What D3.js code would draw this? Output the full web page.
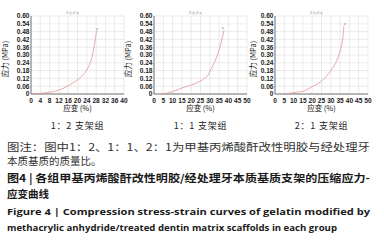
<!DOCTYPE html>
<html>
<head>
<meta charset="utf-8">
<script src="https://cdn.jsdelivr.net/npm/d3@7"></script>
<style>
  body { margin: 0; background: #fff; }
  svg { display: block; }
</style>
</head>
<body>
<div id="chart"></div>
<script>
// Stress-strain curves (strain %, stress MPa)
const strain12 = [0, 2, 4, 6, 8, 10, 12, 14, 16, 18, 20, 22, 24, 25, 26, 27, 28, 28.3];
const stress12 = [0, 0.002, 0.005, 0.009, 0.013, 0.02, 0.03, 0.045, 0.063, 0.085, 0.11, 0.14, 0.185, 0.22, 0.27, 0.35, 0.46, 0.49];
const strain11 = [4.5, 7, 10, 13, 15, 18, 20, 23, 25, 27, 29, 31, 33, 35, 36, 37, 37.6];
const stress11 = [0, 0.006, 0.018, 0.035, 0.046, 0.06, 0.068, 0.085, 0.1, 0.118, 0.145, 0.2, 0.26, 0.34, 0.39, 0.45, 0.49];
const strain21 = [5, 8, 10, 13, 15, 18, 20, 23, 25, 27, 29, 31, 33, 35, 36, 36.6, 37];
const stress21 = [0, 0.006, 0.01, 0.016, 0.02, 0.04, 0.056, 0.08, 0.1, 0.125, 0.16, 0.2, 0.25, 0.33, 0.39, 0.45, 0.52];

// end markers ("x") near the top of each curve
const markers = [[28.5, 0.505], [37, 0.51], [37.5, 0.545]];

const groupLabels = ["1：2 支架组", "1：1 支架组", "2：1 支架组"];
const yTicks = [0, 0.06, 0.12, 0.18, 0.24, 0.3, 0.36, 0.42, 0.48, 0.54, 0.6];
const xTicks40 = [0, 4, 8, 12, 16, 20, 24, 28, 32, 36, 40];
const xTicks50 = [0, 5, 10, 15, 20, 25, 30, 35, 40, 45, 50];

const captionLines = [
  "图注：图中1：2、1：1、2：1为甲基丙烯酸酐改性明胶与经处理牙",
  "本质基质的质量比。",
  "图4 | 各组甲基丙烯酸酐改性明胶/经处理牙本质基质支架的压缩应力-",
  "应变曲线",
  "Figure 4  |  Compression stress-strain curves of gelatin modified by",
  "methacrylic anhydride/treated dentin matrix scaffolds in each group",
];

const W = 384, H = 242;
const svg = d3.select("#chart").append("svg").attr("width", W).attr("height", H);

const panels = [
  { left: 31, right: 124, xs: strain12, ys: stress12, xMax: 40, xTicks: xTicks40, yTitleX: 8 },
  { left: 154, right: 247, xs: strain11, ys: stress11, xMax: 50, xTicks: xTicks50, yTitleX: 131 },
  { left: 275, right: 368, xs: strain21, ys: stress21, xMax: 50, xTicks: xTicks50, yTitleX: 256 },
];
const plotTop = 16, plotBottom = 94;
const tickFont = "'Liberation Sans', Arial, sans-serif";
const cjk = "'Noto Sans CJK SC', sans-serif";

panels.forEach((p, i) => {
  const x = d3.scaleLinear().domain([0, p.xMax]).range([p.left, p.right]);
  const y = d3.scaleLinear().domain([0, 0.6]).range([plotBottom, plotTop]);
  const g = svg.append("g");

  // grid
  g.selectAll("line.vg").data(p.xTicks).join("line")
    .attr("class", "vg")
    .attr("x1", (d) => x(d)).attr("x2", (d) => x(d))
    .attr("y1", plotTop).attr("y2", plotBottom)
    .attr("stroke", "#dcdcdc").attr("stroke-width", 0.6);
  g.selectAll("line.hg").data(yTicks).join("line")
    .attr("class", "hg")
    .attr("x1", p.left).attr("x2", p.right)
    .attr("y1", (d) => y(d)).attr("y2", (d) => y(d))
    .attr("stroke", "#dcdcdc").attr("stroke-width", 0.6);

  // axes lines
  g.append("line").attr("x1", p.left).attr("x2", p.left).attr("y1", plotTop).attr("y2", plotBottom)
    .attr("stroke", "#555").attr("stroke-width", 0.8);
  g.append("line").attr("x1", p.left).attr("x2", p.right).attr("y1", plotBottom).attr("y2", plotBottom)
    .attr("stroke", "#555").attr("stroke-width", 0.8);

  // tick labels
  g.selectAll("text.yt").data(yTicks).join("text")
    .attr("class", "yt")
    .attr("x", p.left - 1.5).attr("y", (d) => y(d) + 2.4)
    .attr("text-anchor", "end")
    .attr("font-family", tickFont).attr("font-weight", "bold")
    .attr("font-size", 6.6).attr("fill", "#222")
    .text((d) => (d === 0 ? "0" : d3.format(".2f")(d)));
  g.selectAll("text.xt").data(p.xTicks).join("text")
    .attr("class", "xt")
    .attr("x", (d) => x(d)).attr("y", plotBottom + 8.5)
    .attr("text-anchor", "middle")
    .attr("font-family", tickFont).attr("font-weight", "bold")
    .attr("font-size", 6.6).attr("fill", "#222")
    .text((d) => d);

  // tiny chart title
  g.append("text").attr("x", (p.left + p.right) / 2 - 5).attr("y", plotTop - 2)
    .attr("text-anchor", "middle").attr("font-family", tickFont)
    .attr("font-size", 3).attr("fill", "#777").text("应力-应变");

  // axis titles
  g.append("text")
    .attr("transform", `translate(${p.yTitleX},${(plotTop + plotBottom) / 2 + 4}) rotate(-90)`)
    .attr("text-anchor", "middle").attr("font-family", cjk)
    .attr("font-size", 7.5).attr("fill", "#111").text("应力 (MPa)");
  g.append("text").attr("x", (p.left + p.right) / 2).attr("y", plotBottom + 17)
    .attr("text-anchor", "middle").attr("font-family", cjk)
    .attr("font-size", 7.5).attr("fill", "#111").text("应变 (%)");

  // group label
  g.append("text").attr("x", (p.left + p.right) / 2).attr("y", 129)
    .attr("text-anchor", "middle").attr("font-family", cjk)
    .attr("font-size", 9).attr("fill", "#222")
    .attr("letter-spacing", 0.8).text(groupLabels[i]);

  // curve
  const pts = p.xs.map((v, k) => [v, p.ys[k]]);
  const line = d3.line().x((d) => x(d[0])).y((d) => y(d[1])).curve(d3.curveMonotoneX);
  g.append("path").attr("d", line(pts))
    .attr("fill", "none").attr("stroke", "#e39494").attr("stroke-width", 0.8);

  // end marker
  const m = markers[i];
  g.append("text").attr("x", x(m[0])).attr("y", y(m[1]) + 1.5)
    .attr("text-anchor", "middle").attr("font-family", tickFont)
    .attr("font-size", 4).attr("fill", "#777").text("x");
});

// caption
const capY = [151, 165, 182, 198, 215, 231];
captionLines.forEach((t, i) => {
  const en = i >= 4;
  const txt = svg.append("text")
    .attr("x", 7).attr("y", capY[i])
    .attr("font-family", en ? "'Open Sans', 'Liberation Sans', sans-serif" : cjk)
    .attr("font-weight", i >= 2 ? "bold" : "normal")
    .attr("font-size", en ? 9.6 : 10.5)
    .attr("fill", i >= 2 ? "#1a1a1a" : "#333")
    .text(t);
  if (i === 0 || i === 2 || i === 4) {
    txt.attr("textLength", 363).attr("lengthAdjust", "spacingAndGlyphs");
  }
  if (i === 5) {
    txt.attr("textLength", 330).attr("lengthAdjust", "spacingAndGlyphs");
  }
});
</script>
</body>
</html>
